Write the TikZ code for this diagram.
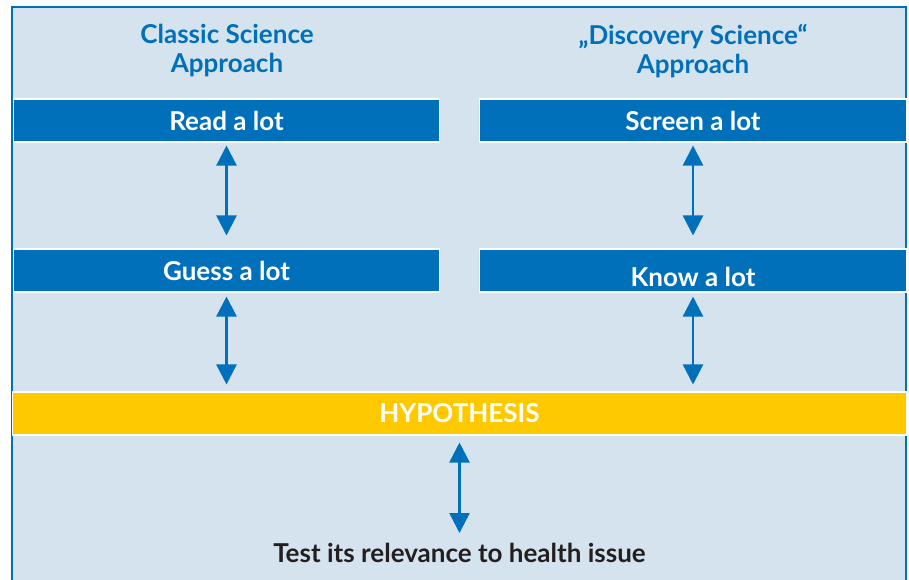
\documentclass[tikz,border=0pt]{standalone}
\usepackage{fontspec}
\setmainfont{Lato}
\usetikzlibrary{arrows.meta, positioning}
\definecolor{panelblue}{HTML}{D5E3EE}
\definecolor{boxblue}{HTML}{0070BA}
\definecolor{hypoyellow}{HTML}{FFC900}
\definecolor{textdark}{HTML}{231F20}

\begin{document}
\begin{tikzpicture}[
    x=0.02cm, y=-0.02cm,
    bar/.style={rectangle, draw=white, line width=0.6pt, fill=boxblue, text=white, minimum width=8.54cm, minimum height=0.86cm, inner sep=0pt, font=\fontsize{14.8}{16}\selectfont\bfseries},
    hypobar/.style={bar, fill=hypoyellow, minimum width=17.88cm},
    heading/.style={text=boxblue, align=center, font=\fontsize{14.8}{16.5}\selectfont\bfseries},
    link/.style={{Triangle[width=0.4cm,length=0.4cm]}-{Triangle[width=0.4cm,length=0.4cm]}, draw=boxblue, line width=1.4pt}
]
\useasboundingbox (0,0) rectangle (909,579);

% Background panel, open at the bottom
\fill[panelblue] (12,7) rectangle (906,585);
\draw[boxblue, line width=0.6pt] (12,585) -- (12,7) -- (906,7) -- (906,585);

% Column headings
\node[heading] (classic) at (227,51) {Classic Science\\Approach};
\node[heading] (discovery) at (693,51) {„Discovery Science“\\Approach};

% Blue bars
\node[bar] (read) at (226.5,120.5) {Read a lot};
\node[bar] (screen) at (693,120.5) {Screen a lot};
\node[bar] (guess) at (226.5,270.5) {Guess a lot};
\node[bar] (know) at (693,270.5) {\smash{\raisebox{-0.32cm}{Know a lot}}};

% Hypothesis bar and the test line
\node[hypobar] (hypo) at (459.5,413.5) {HYPOTHESIS};
\node[anchor=north, inner sep=0pt, text=textdark, font=\fontsize{14.8}{16}\selectfont\bfseries] (test) at (459.5,543) {Test its relevance to health issue};

% Double arrows
\draw[link, shorten <=0.06cm, shorten >=0.26cm] (read) -- (guess);
\draw[link, shorten <=0.06cm, shorten >=0.26cm] (screen) -- (know);
\draw[link, shorten <=0.08cm, shorten >=0.14cm] (guess) -- (hypo.north -| guess);
\draw[link, shorten <=0.08cm, shorten >=0.14cm] (know) -- (hypo.north -| know);
\draw[link, shorten <=0.14cm, shorten >=0.2cm] (hypo) -- (test);

\end{tikzpicture}
\end{document}
